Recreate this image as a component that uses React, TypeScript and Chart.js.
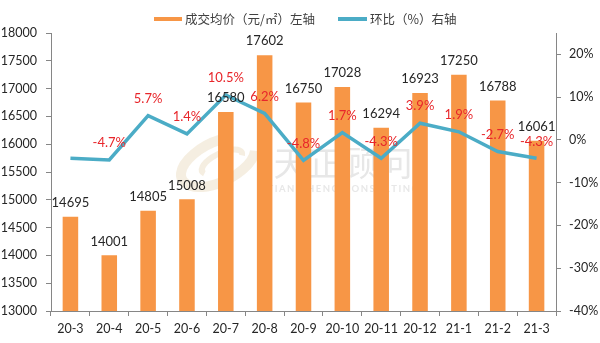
import React, { useEffect, useRef } from "react";
import { Chart, registerables } from "chart.js";

Chart.register(...registerables);

const categories = ["20-3", "20-4", "20-5", "20-6", "20-7", "20-8", "20-9", "20-10", "20-11", "20-12", "21-1", "21-2", "21-3"];
const prices = [14695, 14001, 14805, 15008, 16580, 17602, 16750, 17028, 16294, 16923, 17250, 16788, 16061];
const ratios = [-4.3, -4.7, 5.7, 1.4, 10.5, 6.2, -4.8, 1.7, -4.3, 3.9, 1.9, -2.7, -4.3];
const ratioLabelShown = [false, true, true, true, true, true, true, true, true, true, true, true, true];
const priceLabel = "成交均价（元/㎡）左轴";
const ratioLabel = "环比（%）右轴";
const leftTicks = { min: 13000, max: 18000, step: 500 };
const rightTicks = { min: -40, max: 25, step: 10, lastShown: 20 };

const ORANGE = "#F79646";
const BLUE = "#4BACC6";
const AXIS = "#868686";
const FONT = "Lato, 'Liberation Sans', sans-serif";
const CJK = "'Noto Sans CJK SC', sans-serif";

function spacedText(ctx: CanvasRenderingContext2D, text: string, cx: number, cy: number, spacing: number) {
  const chars = Array.from(text);
  const widths = chars.map((c) => ctx.measureText(c).width);
  const total = widths.reduce((a, b) => a + b, 0) + spacing * (chars.length - 1);
  let x = cx - total / 2;
  ctx.textAlign = "left";
  chars.forEach((c, i) => {
    ctx.fillText(c, x, cy);
    x += widths[i] + spacing;
  });
}

export default function App() {
  const ref = useRef<HTMLCanvasElement | null>(null);

  useEffect(() => {
    document.body.style.margin = "0";
    const canvas = ref.current!;

    const legendPlugin = {
      id: "customLegend",
      afterDraw(chart: any) {
        const ctx = chart.ctx;
        ctx.save();
        ctx.fillStyle = ORANGE;
        ctx.fillRect(154, 17, 28, 4);
        ctx.fillStyle = BLUE;
        ctx.fillRect(338, 17, 29, 4);
        ctx.fillStyle = "#404040";
        ctx.font = `12.5px ${CJK}`;
        ctx.textBaseline = "middle";
        ctx.textAlign = "left";
        ctx.fillText(priceLabel, 185, 19);
        ctx.fillText(ratioLabel, 370, 19);
        ctx.restore();
      },
    };

    const watermarkPlugin = {
      id: "watermark",
      beforeDatasetsDraw(chart: any) {
        const ctx = chart.ctx;
        ctx.save();
        ctx.strokeStyle = "rgba(225,205,170,0.35)";
        ctx.lineWidth = 10;
        ctx.beginPath();
        ctx.ellipse(218, 162, 40, 20, -0.45, 0.3, Math.PI * 1.7);
        ctx.stroke();
        ctx.lineWidth = 6;
        ctx.beginPath();
        ctx.ellipse(222, 162, 22, 9, -0.45, Math.PI * 0.9, Math.PI * 2.1);
        ctx.stroke();
        ctx.fillStyle = "rgba(195,195,195,0.4)";
        ctx.textBaseline = "middle";
        ctx.font = `34px ${CJK}`;
        spacedText(ctx, "天正顾问", 343, 163, 1);
        ctx.font = `bold 9.5px ${FONT}`;
        spacedText(ctx, "TIAN ZHENG CONSULTING", 343, 189, 1.5);
        ctx.restore();
      },
    };

    const labelPlugin = {
      id: "dataLabels",
      afterDatasetsDraw(chart: any) {
        const ctx = chart.ctx;
        ctx.save();
        ctx.textAlign = "center";
        ctx.textBaseline = "middle";
        ctx.font = `13px ${FONT}`;
        const bars = chart.getDatasetMeta(0).data;
        ctx.fillStyle = "#262626";
        bars.forEach((b: any, i: number) => {
          ctx.fillText(String(prices[i]), b.x, b.y - 14);
        });
        const pts = chart.getDatasetMeta(1).data;
        ctx.fillStyle = "#E8262B";
        pts.forEach((p: any, i: number) => {
          if (!ratioLabelShown[i]) return;
          ctx.fillText(`${ratios[i].toFixed(1)}%`, p.x, p.y - 17);
        });
        ctx.restore();
      },
    };

    const chart = new Chart(canvas, {
      data: {
        labels: categories,
        datasets: [
          {
            type: "bar",
            label: priceLabel,
            data: prices,
            backgroundColor: ORANGE,
            yAxisID: "y",
            barPercentage: 0.4,
            categoryPercentage: 1,
            order: 2,
          },
          {
            type: "line",
            label: ratioLabel,
            data: ratios,
            borderColor: BLUE,
            backgroundColor: BLUE,
            borderWidth: 3.5,
            pointRadius: 0,
            tension: 0,
            yAxisID: "y1",
            order: 1,
          },
        ],
      },
      options: {
        responsive: false,
        animation: false,
        layout: { padding: { top: 33, left: 0, right: 0, bottom: 0 } },
        plugins: {
          legend: { display: false },
          tooltip: { enabled: false },
        },
        scales: {
          x: {
            grid: { drawOnChartArea: false, drawTicks: true, tickLength: 5, color: AXIS, offset: true },
            border: { color: AXIS, width: 1 },
            ticks: { color: "#262626", font: { family: FONT, size: 12.5 }, padding: 5, maxRotation: 0, autoSkip: false },
            afterFit(scale: any) {
              scale.height = 32;
            },
          },
          y: {
            position: "left",
            min: leftTicks.min,
            max: leftTicks.max,
            grid: { drawOnChartArea: false, drawTicks: true, tickLength: 5, color: AXIS },
            border: { color: AXIS, width: 1 },
            ticks: {
              stepSize: leftTicks.step,
              color: "#262626",
              font: { family: FONT, size: 12.5 },
              padding: 9,
              callback: (v: any) => String(v),
            },
            afterFit(scale: any) {
              scale.width = 51;
            },
          },
          y1: {
            position: "right",
            min: rightTicks.min,
            max: rightTicks.max,
            grid: { drawOnChartArea: false, drawTicks: true, tickLength: 5, color: AXIS },
            border: { color: AXIS, width: 1 },
            ticks: {
              stepSize: rightTicks.step,
              color: "#262626",
              font: { family: FONT, size: 12.5 },
              padding: 8,
              callback: (v: any) => `${v}%`,
            },
            afterBuildTicks(scale: any) {
              scale.ticks = scale.ticks.filter((t: any) => t.value <= rightTicks.lastShown);
            },
            afterFit(scale: any) {
              scale.width = 44;
            },
          },
        },
      } as any,
      plugins: [watermarkPlugin, labelPlugin, legendPlugin],
    } as any);

    return () => chart.destroy();
  }, []);

  return (
    <div style={{ width: 600, height: 343, background: "#fff" }}>
      <canvas ref={ref} width={600} height={343} style={{ display: "block" }} />
    </div>
  );
}
